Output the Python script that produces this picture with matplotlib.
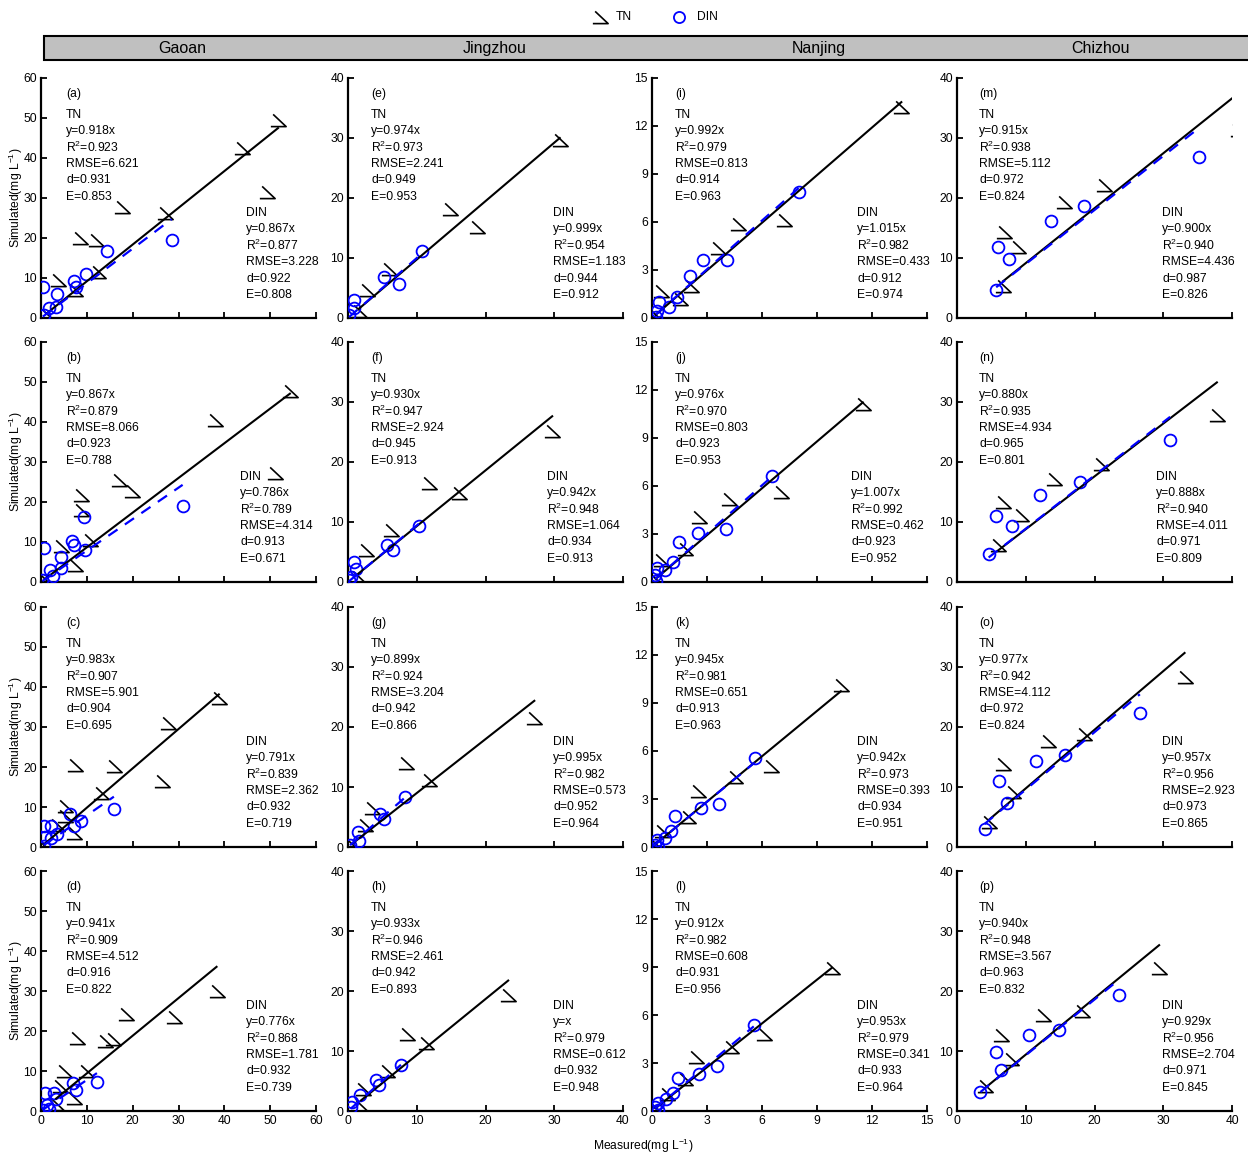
import matplotlib
matplotlib.use("Agg")
import matplotlib.pyplot as plt
from matplotlib.path import Path
from matplotlib.lines import Line2D
from matplotlib.patches import Rectangle

plt.rcParams['font.family'] = ['Liberation Sans', 'DejaVu Sans']
plt.rcParams['mathtext.fontset'] = 'custom'
plt.rcParams['mathtext.rm'] = 'Liberation Sans'
plt.rcParams['mathtext.it'] = 'Liberation Sans:italic'
plt.rcParams['mathtext.bf'] = 'Liberation Sans:bold'

W, H, DPI = 1248, 1155, 100

# ---- layout: one column per site, panels a-d / e-h / i-l / m-p ----
sites = ["Gaoan", "Jingzhou", "Nanjing", "Chizhou"]
axis_max = [60, 40, 15, 40]
tick_step = [10, 10, 3, 10]
panel_ids = list("abcdefghijklmnop")

# ---- Gaoan ----
a_tn_x = [51.7, 43.8, 49.2, 17.6, 27.1, 8.5, 12.1, 12.5, 3.8, 7.4, 1.2]
a_tn_y = [49.5, 42.4, 31.6, 27.8, 26.2, 20.0, 19.5, 11.6, 9.5, 7.0, 0.7]
a_din_x = [0.4, 3.4, 7.1, 7.6, 9.8, 14.3, 28.5, 1.8, 3.3, 0.7]
a_din_y = [7.7, 6.0, 9.3, 7.7, 11.0, 16.8, 19.6, 2.4, 2.8, 0.7]
a_tn_stats = [0.918, 0.923, 6.621, 0.931, 0.853]
a_din_stats = [0.867, 0.877, 3.228, 0.922, 0.808]

b_tn_x = [54.3, 37.9, 51.0, 17.0, 19.9, 8.8, 8.8, 10.6, 4.4, 7.5, 0.9]
b_tn_y = [47.7, 40.6, 27.3, 25.4, 22.7, 21.8, 18.0, 10.6, 8.9, 4.3, 0.4]
b_din_x = [30.9, 9.3, 6.8, 7.3, 9.7, 0.7, 4.4, 4.4, 1.9, 2.6, 0.3]
b_din_y = [18.9, 16.2, 10.2, 9.3, 7.9, 8.5, 6.2, 3.5, 3.1, 1.4, 0.6]
b_tn_stats = [0.867, 0.879, 8.066, 0.923, 0.788]
b_din_stats = [0.786, 0.789, 4.314, 0.913, 0.671]

c_tn_x = [38.8, 27.8, 15.9, 7.5, 26.5, 13.0, 5.3, 5.3, 3.5, 7.1, 0.6]
c_tn_y = [37.3, 31.0, 20.2, 20.6, 16.6, 13.5, 10.2, 7.7, 5.6, 3.5, 0.2]
c_din_x = [15.9, 6.4, 8.8, 7.3, 2.2, 0.7, 3.5, 2.2, 0.9, 0.6]
c_din_y = [9.6, 8.3, 6.6, 5.3, 5.3, 5.3, 3.3, 2.3, 2.4, 0.2]
c_tn_stats = [0.983, 0.907, 5.901, 0.904, 0.695]
c_din_stats = [0.791, 0.839, 2.362, 0.932, 0.719]

d_tn_x = [38.3, 29.0, 18.6, 7.8, 14.0, 15.6, 5.0, 9.9, 4.1, 7.2, 3.3]
d_tn_y = [29.9, 23.5, 24.3, 18.3, 17.5, 17.9, 10.0, 10.0, 6.2, 3.3, 1.7]
d_din_x = [12.2, 7.0, 7.7, 0.9, 2.8, 3.3, 1.3, 1.7, 0.4]
d_din_y = [7.2, 7.1, 5.2, 4.4, 4.4, 2.9, 1.4, 0.6, 0.25]
d_tn_stats = [0.941, 0.909, 4.512, 0.916, 0.822]
d_din_stats = [0.776, 0.868, 1.781, 0.932, 0.739]

# ---- Jingzhou ----
e_tn_x = [30.8, 14.9, 18.8, 6.0, 2.8, 1.6]
e_tn_y = [29.6, 18.2, 15.1, 8.2, 4.6, 1.2]
e_din_x = [10.7, 5.3, 7.35, 0.8, 0.8, 0.15]
e_din_y = [11.1, 6.8, 5.6, 3.0, 1.7, 0.55]
e_tn_stats = [0.974, 0.973, 2.241, 0.949, 0.953]
e_din_stats = [0.999, 0.954, 1.183, 0.944, 0.912]

f_tn_x = [29.7, 16.2, 11.8, 6.2, 2.6, 1.5]
f_tn_y = [25.1, 14.8, 16.5, 8.7, 5.4, 0.9]
f_din_x = [10.3, 5.6, 6.6, 0.9, 1.2, 0.5, 0.1]
f_din_y = [9.4, 6.1, 5.4, 3.3, 2.1, 0.9, 0.3]
f_tn_stats = [0.930, 0.947, 2.924, 0.945, 0.913]
f_din_stats = [0.942, 0.948, 1.064, 0.934, 0.913]

g_tn_x = [27.1, 8.5, 11.8, 3.5, 2.4, 0.6]
g_tn_y = [21.5, 14.0, 11.2, 6.5, 3.7, 0.3]
g_din_x = [8.35, 4.7, 5.2, 1.5, 1.6, 0.3]
g_din_y = [8.4, 5.5, 4.6, 2.5, 1.05, 0.3]
g_tn_stats = [0.899, 0.924, 3.204, 0.942, 0.866]
g_din_stats = [0.995, 0.982, 0.573, 0.952, 0.964]

h_tn_x = [23.3, 8.6, 11.3, 5.7, 2.2, 1.9]
h_tn_y = [19.4, 12.9, 11.4, 6.6, 3.6, 0.8]
h_din_x = [7.7, 4.0, 4.5, 1.7, 0.6, 0.4]
h_din_y = [7.6, 5.2, 4.3, 2.7, 1.5, 0.7]
h_tn_stats = [0.933, 0.946, 2.461, 0.942, 0.893]
h_din_stats = [1.000, 0.979, 0.612, 0.932, 0.948]

# ---- Nanjing ----
i_tn_x = [13.6, 7.2, 4.7, 3.6, 2.1, 1.5, 0.5, 0.2]
i_tn_y = [13.2, 6.1, 5.9, 4.4, 2.0, 1.2, 1.7, 0.15]
i_din_x = [8.0, 4.1, 2.8, 2.07, 1.35, 0.9, 0.4, 0.25, 0.22]
i_din_y = [7.85, 3.65, 3.6, 2.6, 1.3, 0.67, 0.98, 0.42, 0.04]
i_tn_stats = [0.992, 0.979, 0.813, 0.914, 0.963]
i_din_stats = [1.015, 0.982, 0.433, 0.912, 0.974]

j_tn_x = [11.5, 7.04, 4.2, 2.57, 1.81, 0.5, 0.2]
j_tn_y = [11.1, 5.6, 5.19, 4.05, 2.07, 1.35, 0.1]
j_din_x = [6.54, 4.05, 2.53, 1.48, 1.15, 0.72, 0.28, 0.17, 0.2]
j_din_y = [6.64, 3.32, 3.07, 2.49, 1.24, 0.73, 0.87, 0.41, 0.06]
j_tn_stats = [0.976, 0.970, 0.803, 0.923, 0.953]
j_din_stats = [1.007, 0.992, 0.462, 0.923, 0.952]

k_tn_x = [10.3, 6.5, 4.5, 2.5, 1.95, 0.54, 0.2]
k_tn_y = [10.15, 5.04, 4.4, 3.5, 1.85, 1.0, 0.1]
k_din_x = [5.6, 3.64, 2.65, 1.24, 1.04, 0.69, 0.26, 0.15, 0.3]
k_din_y = [5.56, 2.7, 2.44, 1.92, 0.98, 0.56, 0.46, 0.15, 0.0]
k_tn_stats = [0.945, 0.981, 0.651, 0.913, 0.963]
k_din_stats = [0.942, 0.973, 0.393, 0.934, 0.951]

l_tn_x = [9.8, 6.1, 4.3, 2.4, 1.8, 0.8, 0.2]
l_tn_y = [8.94, 4.8, 3.98, 3.35, 2.0, 1.08, 0.1]
l_din_x = [5.55, 3.57, 2.54, 1.4, 1.14, 0.75, 0.32, 0.17, 0.3]
l_din_y = [5.38, 2.84, 2.32, 2.05, 1.12, 0.72, 0.52, 0.25, 0.04]
l_tn_stats = [0.912, 0.982, 0.608, 0.931, 0.956]
l_din_stats = [0.953, 0.979, 0.341, 0.933, 0.964]

# ---- Chizhou ----
m_tn_x = [40.9, 21.4, 15.5, 6.8, 8.8, 6.7]
m_tn_y = [31.4, 22.1, 19.3, 14.3, 11.8, 5.4]
m_din_x = [35.2, 18.5, 13.6, 5.9, 7.5, 5.7]
m_din_y = [26.9, 18.6, 16.1, 11.9, 9.9, 4.6]
m_tn_stats = [0.915, 0.938, 5.112, 0.972, 0.824]
m_din_stats = [0.900, 0.940, 4.436, 0.987, 0.826]

n_tn_x = [37.8, 20.9, 14.1, 6.7, 9.3, 5.9]
n_tn_y = [27.9, 19.6, 17.2, 13.3, 11.2, 6.1]
n_din_x = [31.0, 17.9, 12.1, 5.7, 7.95, 4.6]
n_din_y = [23.6, 16.7, 14.5, 11.0, 9.3, 4.7]
n_tn_stats = [0.880, 0.935, 4.934, 0.965, 0.801]
n_din_stats = [0.888, 0.940, 4.011, 0.971, 0.809]

o_tn_x = [33.1, 18.4, 13.2, 6.7, 8.1, 4.7]
o_tn_y = [28.3, 18.8, 17.7, 13.9, 9.1, 4.1]
o_din_x = [26.6, 15.7, 11.5, 6.1, 7.3, 4.0]
o_din_y = [22.4, 15.4, 14.4, 11.0, 7.3, 3.0]
o_tn_stats = [0.977, 0.942, 4.112, 0.972, 0.824]
o_din_stats = [0.957, 0.956, 2.923, 0.973, 0.865]

p_tn_x = [29.4, 12.45, 18.2, 6.4, 7.9, 4.1]
p_tn_y = [23.9, 16.0, 16.7, 12.65, 8.7, 4.25]
p_din_x = [23.5, 14.9, 10.4, 5.6, 6.4, 3.4]
p_din_y = [19.3, 13.5, 12.65, 9.9, 6.85, 3.15]
p_tn_stats = [0.940, 0.948, 3.567, 0.963, 0.832]
p_din_stats = [0.929, 0.956, 2.704, 0.971, 0.845]

panels = {
    pid: dict(tn_x=globals()[pid + "_tn_x"], tn_y=globals()[pid + "_tn_y"],
              din_x=globals()[pid + "_din_x"], din_y=globals()[pid + "_din_y"],
              tn_stats=globals()[pid + "_tn_stats"],
              din_stats=globals()[pid + "_din_stats"])
    for pid in panel_ids
}

# open "half triangle" marker used for TN
tn_marker = Path([(-0.35, 0.4), (0.5, -0.4), (-0.5, -0.4)],
                 [Path.MOVETO, Path.LINETO, Path.LINETO])

FS = 8.7
BLUE = "#0000ff"


def stat_lines(name, st):
    slope = "y=x" if abs(st[0] - 1.0) < 1e-9 else f"y={st[0]:.3f}x"
    return [name, slope, f"R$^{{2}}$={st[1]:.3f}", f"RMSE={st[2]:.3f}",
            f"d={st[3]:.3f}", f"E={st[4]:.3f}"]


fig = plt.figure(figsize=(W / DPI, H / DPI), dpi=DPI)

col_left = [41, 348, 652, 957]
row_top = [78, 342, 607, 871]
aw, ah = 275, 240
tn_text_x = [0.091, 0.084, 0.084, 0.080]

for c in range(4):
    for r in range(4):
        pid = panel_ids[c * 4 + r]
        p = panels[pid]
        ax = fig.add_axes([col_left[c] / W, 1 - (row_top[r] + ah) / H, aw / W, ah / H])
        vmax = axis_max[c]
        ax.set_xlim(0, vmax)
        ax.set_ylim(0, vmax)
        ticks = list(range(0, vmax + 1, tick_step[c]))
        ax.set_xticks(ticks)
        ax.set_yticks(ticks)
        ax.tick_params(direction="in", length=4, width=1.3, labelsize=FS, pad=3)
        if r < 3:
            ax.tick_params(axis="x", labelbottom=False)
        for s in ("top", "right"):
            ax.spines[s].set_visible(False)
        for s in ("left", "bottom"):
            ax.spines[s].set_linewidth(1.6)

        # observations
        ax.plot(p["tn_x"], p["tn_y"], linestyle="none", marker=tn_marker,
                markersize=11, markeredgewidth=1.2, markeredgecolor="black",
                markerfacecolor="none", zorder=3)
        ax.plot(p["din_x"], p["din_y"], linestyle="none", marker="o",
                markersize=8.5, markeredgewidth=1.3, markeredgecolor=BLUE,
                markerfacecolor="none", zorder=4)

        # fitted lines through the origin, drawn over the measured range
        tx0, tx1 = min(p["tn_x"]), max(p["tn_x"])
        ax.plot([tx0, tx1], [p["tn_stats"][0] * tx0, p["tn_stats"][0] * tx1],
                color="black", lw=1.5, zorder=5)
        dx0, dx1 = min(p["din_x"]), max(p["din_x"])
        ax.plot([dx0, dx1], [p["din_stats"][0] * dx0, p["din_stats"][0] * dx1],
                color=BLUE, lw=1.6, dashes=(5, 4), zorder=6)

        # panel letter and fit statistics
        ax.text(tn_text_x[c], (240 - (94 - 78)) / 240, f"({pid})",
                transform=ax.transAxes, fontsize=FS, va="center", ha="left")
        lines = stat_lines("TN", p["tn_stats"]) + stat_lines("DIN", p["din_stats"])
        din_x = 0.724 if r == 1 else 0.747
        for k, txt in enumerate(lines):
            yy = (240 - (115 - 78 + k * 16.35)) / 240
            xx = tn_text_x[c] if k < 6 else din_x
            ax.text(xx, yy, txt, transform=ax.transAxes, fontsize=FS,
                    va="center", ha="left")

# y label for each row on the left
for r in range(4):
    fig.text(16 / W, 1 - (row_top[r] + ah / 2) / H, "Simulated(mg L$^{-1}$)",
             rotation=90, ha="center", va="center", fontsize=FS)

fig.text(643 / W, 1 - 1146 / H, "Measured(mg L$^{-1}$)", ha="center",
         va="center", fontsize=FS)

# site header band
fig.add_artist(Rectangle((44 / W, 1 - 60 / H), 1.0, 24 / H, transform=fig.transFigure,
                         facecolor="#c0c0c0", edgecolor="black", lw=1.5, clip_on=False))
for name, xc in zip(sites, [182, 495, 819, 1100]):
    fig.text(xc / W, 1 - 53 / H, name, ha="center", va="baseline", fontsize=11.5)

# legend
fig.add_artist(Line2D([600 / W], [1 - 17 / H], transform=fig.transFigure,
                      marker=tn_marker, markersize=11, markeredgewidth=1.2,
                      markeredgecolor="black", markerfacecolor="none", linestyle="none"))
fig.text(616 / W, 1 - 17 / H, "TN", ha="left", va="center", fontsize=FS)
fig.add_artist(Line2D([679 / W], [1 - 17 / H], transform=fig.transFigure,
                      marker="o", markersize=8, markeredgewidth=1.3,
                      markeredgecolor=BLUE, markerfacecolor="none", linestyle="none"))
fig.text(697 / W, 1 - 17 / H, "DIN", ha="left", va="center", fontsize=FS)

fig.savefig("out.png", dpi=DPI, facecolor="white")
